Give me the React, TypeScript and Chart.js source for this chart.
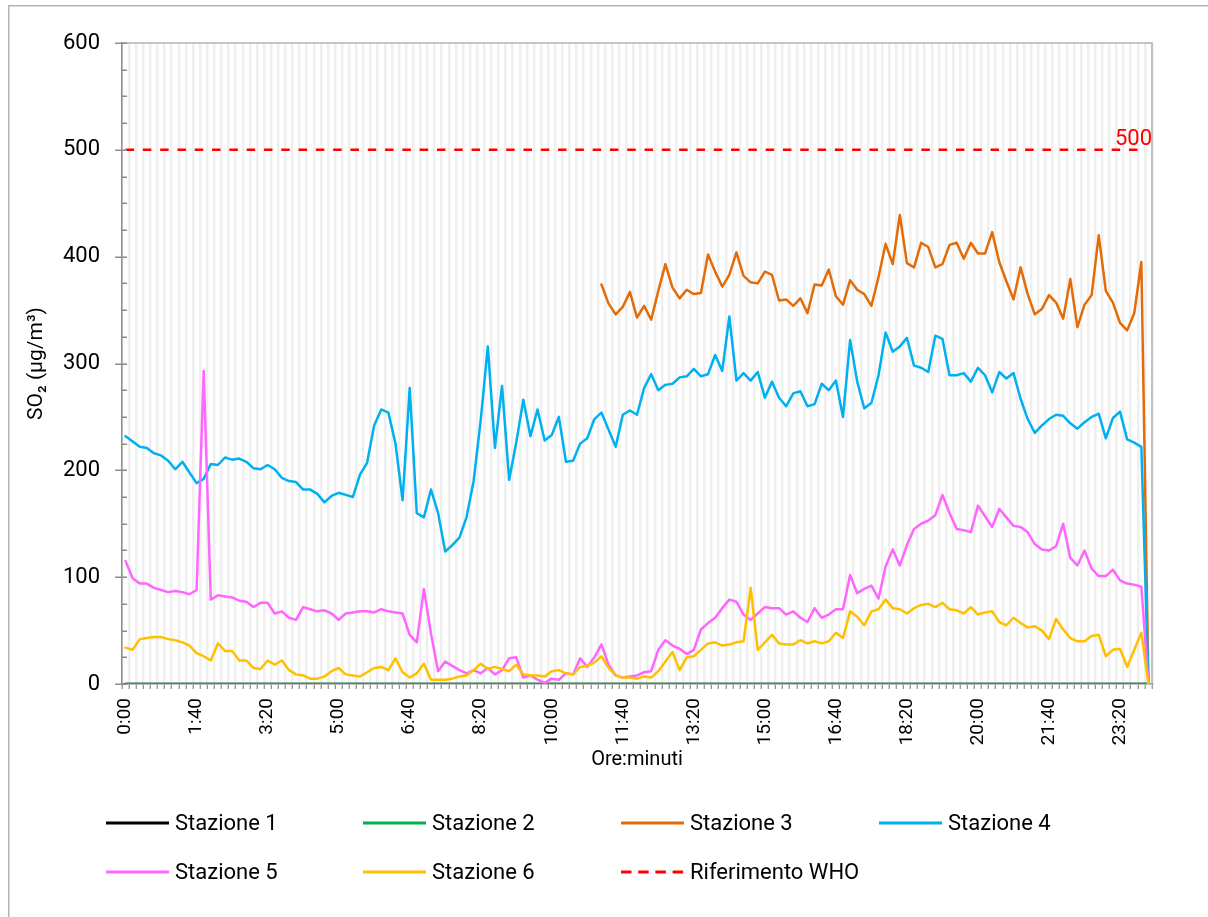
import React, { useEffect, useRef } from "react";
import { Chart, registerables } from "chart.js";

Chart.register(...registerables);

// Categories: every 10 minutes from 0:00 to 24:00
const timeLabels: string[] = [];
for (let m = 0; m <= 1440; m += 10) {
  timeLabels.push(`${Math.floor(m / 60)}:${String(m % 60).padStart(2, "0")}`);
}
const labelEvery = 10;

const yTicks = { min: 0, max: 600, step: 100, minorStep: 25 };

const station1 = timeLabels.map(() => 0);
const station2 = timeLabels.map(() => 0);

const station3Start = 67;
const station3Values = [
  374, 356, 346, 353, 367, 343, 354, 341, 368, 393,
  371, 361, 369, 365, 366, 402, 386, 372, 383, 404,
  382, 376, 375, 386, 383, 359, 360, 354, 361, 347,
  374, 373, 388, 363, 355, 378, 369, 365, 354, 381,
  412, 393, 439, 394, 390, 413, 409, 390, 393, 411,
  413, 398, 413, 403, 403, 423, 395, 377, 360, 390,
  365, 346, 351, 364, 357, 342, 379, 334, 355, 364,
  420, 368, 357, 338, 331, 347, 395, 0,
];

const station4 = [
  232, 227, 222, 221, 216, 214, 209, 201, 208, 198,
  188, 192, 206, 205, 212, 210, 211, 208, 202, 201,
  205, 201, 193, 190, 189, 182, 182, 178, 170, 176,
  179, 177, 175, 196, 207, 242, 257, 254, 225, 172,
  277, 160, 156, 182, 160, 124, 130, 137, 156, 190,
  247, 316, 221, 279, 191, 226, 266, 232, 257, 228,
  233, 250, 208, 209, 225, 230, 248, 254, 238, 222,
  252, 256, 252, 277, 290, 275, 280, 281, 287, 288,
  295, 288, 290, 308, 293, 344, 284, 291, 284, 292,
  268, 283, 268, 260, 272, 274, 260, 262, 281, 275,
  284, 250, 322, 283, 258, 263, 289, 329, 311, 316,
  324, 298, 296, 292, 326, 323, 289, 289, 291, 283,
  296, 289, 273, 292, 286, 291, 267, 248, 235, 242,
  248, 252, 251, 244, 239, 245, 250, 253, 230, 249,
  255, 229, 226, 222, 0,
];

const station5 = [
  115, 99, 94, 94, 90, 88, 86, 87, 86, 84,
  88, 293, 79, 83, 82, 81, 78, 77, 72, 76,
  76, 66, 68, 62, 60, 72, 70, 68, 69, 66,
  60, 66, 67, 68, 68, 67, 70, 68, 67, 66,
  46, 39, 89, 47, 12, 21, 17, 13, 10, 13,
  10, 15, 9, 13, 24, 25, 6, 8, 4, 1,
  5, 4, 10, 9, 24, 16, 25, 37, 18, 8,
  6, 7, 8, 11, 12, 32, 41, 36, 33, 28,
  32, 51, 57, 62, 71, 79, 77, 65, 60, 66,
  72, 71, 71, 65, 68, 62, 58, 71, 62, 65,
  70, 70, 102, 85, 89, 92, 80, 110, 126, 111,
  130, 145, 150, 153, 158, 177, 160, 145, 144, 142,
  167, 157, 147, 164, 156, 148, 147, 142, 131, 126,
  125, 129, 150, 118, 111, 125, 108, 101, 101, 107,
  97, 94, 93, 91, 0,
];

const station6 = [
  34, 32, 42, 43, 44, 44, 42, 41, 39, 36,
  29, 26, 22, 38, 31, 31, 22, 22, 15, 14,
  22, 18, 22, 13, 9, 8, 5, 5, 7, 12,
  15, 9, 8, 7, 11, 15, 16, 13, 24, 11,
  6, 10, 19, 4, 4, 4, 5, 7, 8, 13,
  19, 14, 16, 14, 12, 18, 9, 8, 8, 7,
  12, 13, 10, 9, 16, 17, 20, 26, 15, 8,
  6, 6, 5, 7, 6, 12, 21, 30, 13, 25,
  26, 32, 38, 39, 36, 37, 39, 40, 90, 32,
  39, 46, 38, 37, 37, 41, 38, 40, 38, 40,
  48, 43, 68, 63, 55, 68, 70, 79, 71, 70,
  66, 71, 74, 75, 72, 76, 70, 69, 66, 72,
  65, 67, 68, 58, 55, 62, 57, 53, 54, 50,
  42, 61, 51, 43, 40, 40, 45, 46, 26, 32,
  33, 16, 32, 48, 0,
];

const whoLimit = 500;
const whoPoints = 144; // reference line spans 0:00 .. 23:50

const station3 = timeLabels.map((_, i) =>
  i < station3Start ? null : station3Values[i - station3Start]
);
const whoLine = timeLabels.map((_, i) => (i < whoPoints ? whoLimit : null));

const seriesDefs = [
  { label: "Stazione 1", data: station1, color: "#000000", dash: [] as number[] },
  { label: "Stazione 2", data: station2, color: "#00B050", dash: [] as number[] },
  { label: "Stazione 3", data: station3, color: "#E36C09", dash: [] as number[] },
  { label: "Stazione 4", data: station4, color: "#00B0F0", dash: [] as number[] },
  { label: "Stazione 5", data: station5, color: "#FF66FF", dash: [] as number[] },
  { label: "Stazione 6", data: station6, color: "#FFC000", dash: [] as number[] },
  { label: "Riferimento WHO", data: whoLine, color: "#FF0000", dash: [8.5, 8.8] },
];

const FONT = "Roboto";
const AXIS_GRAY = "#8c8c8c";

const decorPlugin = {
  id: "decor",
  afterDatasetsDraw(chart: any) {
    const { ctx, chartArea } = chart;
    // WHO value label
    const whoIdx = seriesDefs.length - 1;
    const meta = chart.getDatasetMeta(whoIdx);
    const pt = meta.data[whoPoints - 1];
    if (pt) {
      ctx.save();
      ctx.fillStyle = "#FF0000";
      ctx.font = `22px ${FONT}`;
      ctx.textAlign = "right";
      ctx.textBaseline = "alphabetic";
      ctx.fillText(String(whoLimit), chartArea.right, pt.y - 5);
      ctx.restore();
    }
  },
  afterDraw(chart: any) {
    const { ctx, chartArea, width, height } = chart;
    const yScale = chart.scales.y;
    ctx.save();
    // outer chart border (left & top visible)
    ctx.strokeStyle = "#b4b4b4";
    ctx.lineWidth = 1.5;
    ctx.beginPath();
    ctx.moveTo(0.75, height + 2);
    ctx.lineTo(0.75, 0.75);
    ctx.lineTo(width + 2, 0.75);
    ctx.stroke();

    // plot area border top & right
    ctx.strokeStyle = "#b3b3b3";
    ctx.lineWidth = 1.5;
    ctx.beginPath();
    ctx.moveTo(chartArea.left, chartArea.top);
    ctx.lineTo(chartArea.right, chartArea.top);
    ctx.lineTo(chartArea.right, chartArea.bottom);
    ctx.stroke();

    // y-axis major / minor tick marks
    ctx.strokeStyle = AXIS_GRAY;
    ctx.lineWidth = 1.5;
    for (let v = yTicks.min; v <= yTicks.max; v += yTicks.minorStep) {
      const y = Math.round(yScale.getPixelForValue(v)) + 0.25;
      const major = v % yTicks.step === 0;
      ctx.beginPath();
      ctx.moveTo(chartArea.left - (major ? 7 : 0), y);
      ctx.lineTo(chartArea.left + 5, y);
      ctx.stroke();
    }

    // legend
    const colX = [98, 355, 613, 871];
    const rowY = [818, 867];
    const lineLen = 63;
    ctx.font = `22px ${FONT}`;
    ctx.textBaseline = "middle";
    ctx.textAlign = "left";
    seriesDefs.forEach((s, i) => {
      const x = colX[i % 4];
      const y = rowY[Math.floor(i / 4)];
      ctx.strokeStyle = s.color;
      ctx.lineWidth = 3;
      ctx.setLineDash(s.dash.length ? [10.5, 6.7] : []);
      ctx.beginPath();
      ctx.moveTo(x, y);
      ctx.lineTo(x + lineLen, y);
      ctx.stroke();
      ctx.setLineDash([]);
      ctx.fillStyle = "#000000";
      ctx.fillText(s.label, x + lineLen + 6, y + 1);
    });
    ctx.restore();
  },
};

export default function App() {
  const ref = useRef<HTMLCanvasElement>(null);
  useEffect(() => {
    if (!ref.current) return;
    const n = seriesDefs.length;
    const chart = new Chart(ref.current, {
      type: "line",
      data: {
        labels: timeLabels,
        datasets: seriesDefs.map((s, i) => ({
          label: s.label,
          data: s.data as any,
          borderColor: s.color,
          backgroundColor: s.color,
          borderWidth: 2.5,
          borderDash: s.dash,
          pointRadius: 0,
          pointHoverRadius: 0,
          tension: 0,
          fill: false,
          spanGaps: false,
          borderJoinStyle: "round" as const,
          borderCapStyle: s.dash.length ? ("butt" as const) : ("round" as const),
          order: n - i,
        })),
      },
      options: {
        animation: false,
        responsive: false,
        devicePixelRatio: 1,
        events: [],
        layout: { padding: { left: 0, right: 56, top: 38, bottom: 133 } },
        plugins: {
          legend: { display: false },
          tooltip: { enabled: false },
        },
        scales: {
          x: {
            type: "category",
            offset: true,
            afterFit: (scale: any) => {
              scale.height = 100;
            },
            grid: {
              display: true,
              drawOnChartArea: true,
              offset: true,
              color: "#efefef",
              lineWidth: 2.5,
              drawTicks: true,
              tickLength: 5,
              tickColor: AXIS_GRAY,
              tickWidth: 1.2,
            },
            border: { display: true, color: AXIS_GRAY, width: 1.5 },
            ticks: {
              autoSkip: false,
              maxRotation: 90,
              minRotation: 90,
              padding: 9,
              color: "#000000",
              font: { family: FONT, size: 19 },
              callback: (_v: any, i: number) => (i % labelEvery === 0 ? timeLabels[i] : ""),
            },
            title: {
              display: true,
              text: "Ore:minuti",
              color: "#000000",
              font: { family: FONT, size: 20 },
              padding: { top: 0, bottom: 12 },
            },
          },
          y: {
            min: yTicks.min,
            max: yTicks.max,
            afterFit: (scale: any) => {
              scale.width = 114;
            },
            grid: { display: true, drawOnChartArea: false, drawTicks: false },
            border: { display: true, color: AXIS_GRAY, width: 1.5 },
            ticks: {
              stepSize: yTicks.step,
              padding: 22,
              color: "#000000",
              font: { family: FONT, size: 22 },
            },
            title: {
              display: true,
              text: "SO₂ (µg/m³)",
              color: "#000000",
              font: { family: FONT, size: 21 },
              padding: { top: 16.5, bottom: 0 },
            },
          },
        },
      },
      plugins: [decorPlugin],
    });
    return () => chart.destroy();
  }, []);

  return (
    <div
      style={{
        position: "fixed",
        left: 8,
        top: 5,
        width: 1200,
        height: 912,
        background: "#ffffff",
        overflow: "hidden",
      }}
    >
      <canvas ref={ref} width={1200} height={912} style={{ display: "block" }} />
    </div>
  );
}
